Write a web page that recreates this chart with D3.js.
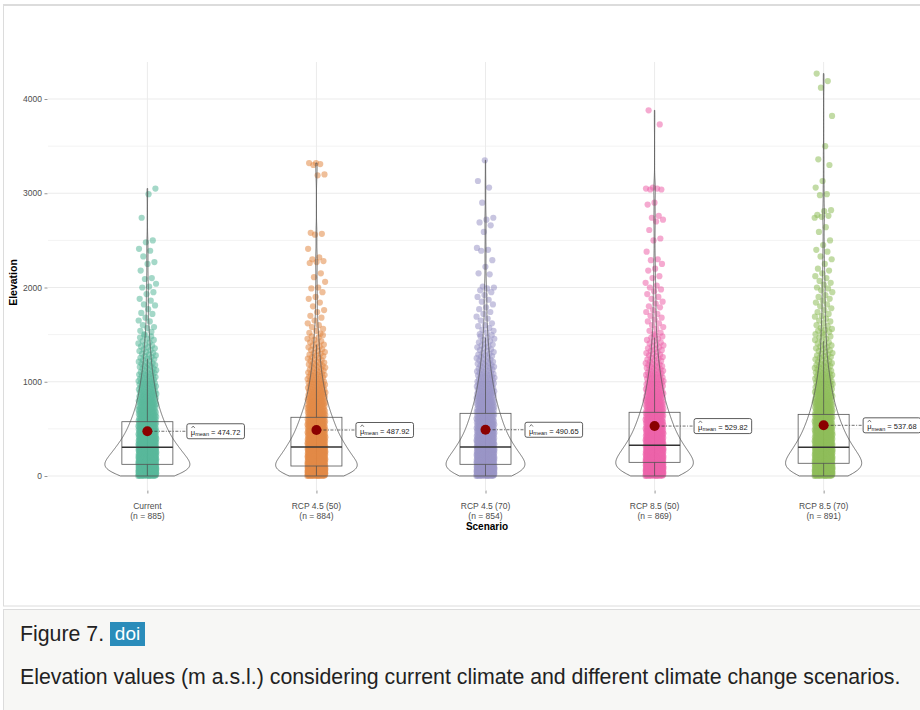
<!DOCTYPE html>
<html>
<head>
<meta charset="utf-8">
<script src="https://cdn.jsdelivr.net/npm/d3@7"></script>
<style>
  body { margin: 0; background: #fff; }
  svg text { font-family: "Liberation Sans", Arial, sans-serif; }
</style>
</head>
<body>
<div id="figure"></div>
<script>
// ========= Data ========= //
const scenarios = ['Current', 'RCP 4.5 (50)', 'RCP 4.5 (70)', 'RCP 8.5 (50)', 'RCP 8.5 (70)'];
const sampleSizes = [885, 884, 854, 869, 891];
const means = [474.72, 487.92, 490.65, 529.82, 537.68];
const q1s = [124, 106, 124, 145, 135];
const medians = [305, 308, 308, 326, 305];
const q3s = [576, 623, 665, 676, 654];
const colors = ['#1B9E77', '#D95F02', '#7570B3', '#E7298A', '#66A61E'];
const yTicks = [0, 1000, 2000, 3000, 4000];
const yMinorTicks = [500, 1500, 2500, 3500];

// points per 100 m band, 0 - 1500 m
const binWidth = 100;
const binCounts = [
  [185, 135, 115, 90, 70, 58, 45, 36, 29, 24, 19, 15, 12, 10, 8],
  [195, 120, 110, 88, 70, 60, 48, 38, 30, 24, 19, 15, 12, 10, 8],
  [180, 118, 105, 82, 66, 56, 46, 38, 30, 25, 20, 16, 13, 10, 8],
  [160, 128, 110, 86, 70, 58, 48, 38, 30, 25, 20, 16, 12, 10, 8],
  [172, 125, 110, 86, 70, 58, 47, 38, 30, 25, 20, 16, 12, 10, 8]
];
// single points above 1500 m
const tailValues = [
  [3050, 2990, 2740, 2500, 2480, 2410, 2390, 2330, 2270, 2250, 2180, 2100, 2090, 2040, 2010, 2000, 1950,
   1930, 1880, 1860, 1820, 1810, 1770, 1730, 1720, 1680, 1650, 1640, 1600, 1580, 1570, 1540, 1530, 1505],
  [3320, 3320, 3310, 3300, 3200, 3190, 2580, 2570, 2560, 2410, 2320, 2300, 2280, 2270, 2260, 2150, 2110,
   2060, 2000, 1990, 1950, 1900, 1880, 1840, 1800, 1760, 1740, 1700, 1680, 1650, 1620, 1600, 1580, 1560,
   1540, 1520, 1510],
  [3350, 3130, 3060, 2900, 2740, 2720, 2690, 2660, 2590, 2420, 2400, 2390, 2290, 2220, 2150, 2140, 2010,
   2000, 1990, 1970, 1950, 1920, 1900, 1870, 1850, 1820, 1790, 1770, 1740, 1720, 1690, 1670, 1650, 1620,
   1600, 1590, 1570, 1550, 1540, 1520, 1505],
  [3880, 3730, 3060, 3050, 3050, 3040, 3040, 2900, 2880, 2760, 2740, 2720, 2700, 2610, 2520, 2500, 2380,
   2300, 2290, 2250, 2200, 2180, 2120, 2100, 2050, 2020, 2000, 1980, 1960, 1930, 1900, 1880, 1850, 1830,
   1800, 1790, 1760, 1740, 1720, 1700, 1680, 1660, 1640, 1620, 1600, 1580, 1560, 1540, 1520, 1505],
  [4270, 4190, 4120, 3820, 3500, 3360, 3300, 3130, 3060, 2990, 2980, 2820, 2810, 2770, 2760, 2750, 2740,
   2640, 2590, 2500, 2450, 2400, 2380, 2330, 2300, 2250, 2200, 2180, 2150, 2120, 2100, 2070, 2050, 2030,
   2000, 1990, 1970, 1950, 1920, 1900, 1880, 1860, 1840, 1820, 1800, 1780, 1760, 1740, 1720, 1700, 1690,
   1670, 1650, 1640, 1620, 1600, 1590, 1570, 1560, 1550, 1540, 1530, 1515, 1505]
];

// ========= Setup dimensions ========= //
const width = 920;
const height = 710;
const panel = { left: 48, right: 920, top: 62, bottom: 490 };

const svg = d3.select('#figure').append('svg')
  .attr('width', width)
  .attr('height', height);

// ========= Frame ========= //
svg.append('rect')
  .attr('x', 3.5).attr('y', 5)
  .attr('width', width).attr('height', 601)
  .attr('fill', '#fff')
  .attr('stroke', '#dcdcdc');
svg.append('line')
  .attr('x1', 3).attr('x2', width).attr('y1', 5).attr('y2', 5)
  .attr('stroke', '#dcdcdc').attr('stroke-width', 2);

// ========= Scales ========= //
const x = d3.scalePoint()
  .domain(scenarios)
  .range([51, 920])
  .padding(0.57);

const y = d3.scaleLinear()
  .domain([0, 4000])
  .range([476, 99]);

// ========= Grid ========= //
const grid = svg.append('g');
grid.selectAll('.minor').data(yMinorTicks).join('line')
  .attr('x1', panel.left).attr('x2', panel.right)
  .attr('y1', d => y(d)).attr('y2', d => y(d))
  .attr('stroke', '#f3f3f3');
grid.selectAll('.major').data(yTicks).join('line')
  .attr('x1', panel.left).attr('x2', panel.right)
  .attr('y1', d => y(d)).attr('y2', d => y(d))
  .attr('stroke', '#ebebeb');
grid.selectAll('.vert').data(scenarios).join('line')
  .attr('x1', d => x(d)).attr('x2', d => x(d))
  .attr('y1', panel.top).attr('y2', panel.bottom)
  .attr('stroke', '#ebebeb');

// ========= Axes ========= //
const yAxis = svg.append('g')
  .attr('transform', `translate(${panel.left - 0.5},0)`)
  .call(d3.axisLeft(y).tickValues(yTicks).tickFormat(d3.format('d')).tickSize(3).tickPadding(2.5));
yAxis.select('.domain').remove();
yAxis.selectAll('line').attr('stroke', '#4d4d4d').attr('stroke-width', 0.6);
yAxis.selectAll('text').attr('fill', '#4d4d4d').attr('font-size', 8.5)
  .attr('font-family', '"Liberation Sans", Arial, sans-serif');

const xAxis = svg.append('g')
  .attr('transform', `translate(0,${panel.bottom + 0.5})`)
  .call(d3.axisBottom(x).tickSize(3).tickFormat(''));
xAxis.select('.domain').remove();
xAxis.selectAll('line').attr('stroke', '#4d4d4d').attr('stroke-width', 0.6);

svg.append('g').selectAll('text').data(scenarios).join('text')
  .attr('x', d => x(d))
  .attr('text-anchor', 'middle')
  .attr('fill', '#4d4d4d')
  .attr('font-size', 8.5)
  .each(function (d, i) {
    const t = d3.select(this);
    t.append('tspan').attr('x', x(d)).attr('y', 509).text(d);
    t.append('tspan').attr('x', x(d)).attr('y', 518.5).text(`(n = ${sampleSizes[i]})`);
  });

svg.append('text')
  .attr('x', (panel.left + panel.right) / 2 + 3)
  .attr('y', 530)
  .attr('text-anchor', 'middle')
  .attr('font-weight', 'bold')
  .attr('font-size', 10)
  .text('Scenario');

svg.append('text')
  .attr('transform', `translate(17,${y(2000) - 5}) rotate(-90)`)
  .attr('text-anchor', 'middle')
  .attr('font-weight', 'bold')
  .attr('font-size', 10.5)
  .text('Elevation');

// ========= Build points ========= //
const groups = scenarios.map((name, g) => {
  const values = [];
  binCounts[g].forEach((count, b) => {
    for (let j = 0; j < count; j++) values.push(b * binWidth + (j + 0.5) * binWidth / count);
  });
  tailValues[g].forEach(v => values.push(v));
  return { name, g, values };
});

// kernel density (gaussian, bw.nrd0), trimmed to data range
function density(values) {
  const sorted = values.slice().sort(d3.ascending);
  const n = sorted.length;
  const iqr = d3.quantile(sorted, 0.75) - d3.quantile(sorted, 0.25);
  const bw = 0.9 * Math.min(d3.deviation(sorted), iqr / 1.34) * Math.pow(n, -0.2);
  const lo = sorted[0], hi = sorted[n - 1];
  const grid = d3.range(512).map(i => lo + (hi - lo) * i / 511);
  return grid.map(v => {
    let s = 0;
    for (const xi of sorted) {
      const u = (v - xi) / bw;
      s += Math.exp(-0.5 * u * u);
    }
    return [v, s / (n * bw * Math.sqrt(2 * Math.PI))];
  });
}
groups.forEach(d => { d.dens = density(d.values); });
const maxDens = d3.max(groups, d => d3.max(d.dens, e => e[1]));
const violinW = d3.scaleLinear().domain([0, maxDens]).range([0, 42.5]);

const jitterHalf = 9;
const boxHalf = 25.5;

const layer = svg.append('g');

groups.forEach(d => {
  const cx = x(d.name);
  const gg = layer.append('g');

  // jittered points (group opacity keeps the dense band from going fully saturated)
  gg.append('g')
    .attr('opacity', 0.72)
    .selectAll('circle').data(d.values).join('circle')
    .attr('cx', (v, i) => cx + (((i * 0.6180339887) % 1) - 0.5) * 2 * jitterHalf)
    .attr('cy', v => y(v))
    .attr('r', 3.1)
    .attr('fill', colors[d.g])
    .attr('fill-opacity', 0.55);

  // box
  const q1 = q1s[d.g], q3 = q3s[d.g];
  const upper = d3.max(d.values.filter(v => v <= q3 + 1.5 * (q3 - q1)));
  const lower = d3.min(d.values);
  gg.append('line')
    .attr('x1', cx).attr('x2', cx).attr('y1', y(q3)).attr('y2', y(upper))
    .attr('stroke', '#4d4d4d').attr('stroke-width', 0.7);
  gg.append('line')
    .attr('x1', cx).attr('x2', cx).attr('y1', y(q1)).attr('y2', y(lower))
    .attr('stroke', '#4d4d4d').attr('stroke-width', 0.7);
  gg.append('rect')
    .attr('x', cx - boxHalf).attr('width', boxHalf * 2)
    .attr('y', y(q3)).attr('height', y(q1) - y(q3))
    .attr('fill', 'none').attr('stroke', '#555').attr('stroke-width', 0.8);
  gg.append('line')
    .attr('x1', cx - boxHalf).attr('x2', cx + boxHalf)
    .attr('y1', y(medians[d.g])).attr('y2', y(medians[d.g]))
    .attr('stroke', '#333').attr('stroke-width', 1.4);

  // violin
  const area = d3.area()
    .x0(e => cx - violinW(e[1]))
    .x1(e => cx + violinW(e[1]))
    .y(e => y(e[0]));
  gg.append('path')
    .attr('d', area(d.dens))
    .attr('fill', 'none')
    .attr('stroke', '#555')
    .attr('stroke-width', 0.8);

  // mean label
  const my = y(means[d.g]);
  const lx = cx + 39.5;
  gg.append('line')
    .attr('x1', cx).attr('x2', lx).attr('y1', my).attr('y2', my)
    .attr('stroke', '#333').attr('stroke-width', 0.7)
    .attr('stroke-dasharray', '3,1.5,1,1.5');

  const lab = gg.append('g');
  const rect = lab.append('rect')
    .attr('fill', '#fff').attr('stroke', '#333').attr('stroke-width', 0.8)
    .attr('rx', 2);
  const txt = lab.append('text')
    .attr('x', lx + 4).attr('y', my + 4)
    .attr('font-size', 7.5).attr('fill', '#222');
  txt.append('tspan').text('\u03bc');
  txt.append('tspan').attr('font-size', 5.5).attr('dy', 1.2).text('mean');
  txt.append('tspan').attr('dy', -1.2).text(' = ' + d3.format('.2f')(means[d.g]));
  // hat over mu
  lab.append('path')
    .attr('d', `M${lx + 4.6},${my - 3.2} L${lx + 6.3},${my - 5.2} L${lx + 8},${my - 3.2}`)
    .attr('fill', 'none').attr('stroke', '#222').attr('stroke-width', 0.6);
  const tw = txt.node().getComputedTextLength();
  rect.attr('x', lx).attr('y', my - 7.5).attr('width', tw + 8).attr('height', 15);

  // mean point
  gg.append('circle')
    .attr('cx', cx).attr('cy', my).attr('r', 5)
    .attr('fill', '#8B0000');
});

// ========= Caption ========= //
const cap = svg.append('g');
cap.append('rect')
  .attr('x', 3.5).attr('y', 609.5)
  .attr('width', width).attr('height', 110)
  .attr('fill', '#f7f7f5')
  .attr('stroke', '#dcdcdc');
cap.append('text')
  .attr('x', 20).attr('y', 641)
  .attr('font-size', 21.3).attr('fill', '#222')
  .text('Figure 7.');
cap.append('rect')
  .attr('x', 110).attr('y', 622)
  .attr('width', 35).attr('height', 24)
  .attr('fill', '#2a8cba');
cap.append('text')
  .attr('x', 127.5).attr('y', 640)
  .attr('text-anchor', 'middle')
  .attr('font-size', 19).attr('fill', '#fff')
  .text('doi');
cap.append('text')
  .attr('x', 20).attr('y', 684)
  .attr('font-size', 21.3).attr('fill', '#222')
  .text('Elevation values (m a.s.l.) considering current climate and different climate change scenarios.');
</script>
</body>
</html>
